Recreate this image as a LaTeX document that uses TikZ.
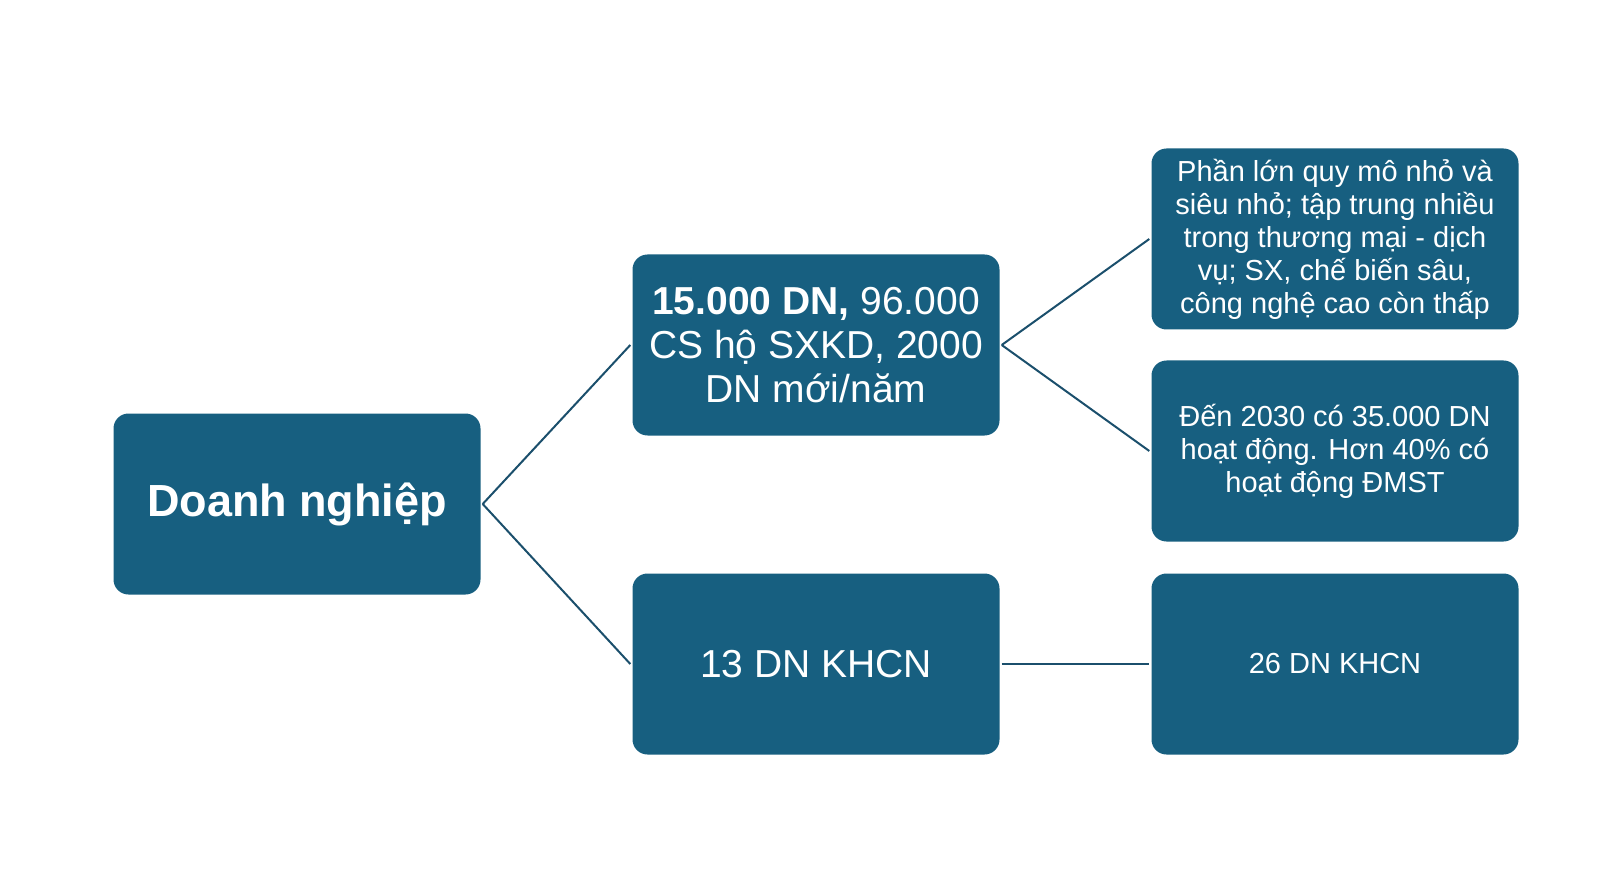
\documentclass[tikz,border=0pt]{standalone}
\usepackage{fontspec}
\setmainfont{Liberation Sans}
\begin{document}
\begin{tikzpicture}[x=1pt,y=-1pt,
  box/.style={fill=boxc,rounded corners=15pt,minimum width=367pt,minimum height=181pt,text=white,align=center,inner sep=2pt,anchor=center},
  con/.style={draw=linec,line width=2pt}]
\definecolor{boxc}{HTML}{175F80}
\definecolor{linec}{HTML}{1B4F6C}
\useasboundingbox (0,0) rectangle (1614,882);
\node[box,font=\fontsize{45}{52}\selectfont\bfseries] (root) at (297,504) {Doanh nghiệp};
\node[box,font=\fontsize{39}{44}\selectfont] (m1) at (816,345) {\textbf{15.000 DN,} 96.000\\CS hộ SXKD, 2000\\DN mới/năm};
\node[box,font=\fontsize{39}{44}\selectfont] (m2) at (816,664) {13 DN KHCN};
\node[box,font=\fontsize{29}{33}\selectfont] (r1) at (1335,239) {Phần lớn quy mô nhỏ và\\siêu nhỏ; tập trung nhiều\\trong thương mại - dịch\\vụ; SX, chế biến sâu,\\công nghệ cao còn thấp};
\node[box,font=\fontsize{29}{33}\selectfont] (r2) at (1335,451) {Đến 2030 có 35.000 DN\\hoạt động. Hơn 40\% có\\hoạt động ĐMST};
\node[box,font=\fontsize{29}{33}\selectfont] (r3) at (1335,664) {26 DN KHCN};
\draw[con] ([xshift=2pt]root.east) -- ([xshift=-2pt]m1.west);
\draw[con] ([xshift=2pt]root.east) -- ([xshift=-2pt]m2.west);
\draw[con] ([xshift=2pt]m1.east) -- ([xshift=-2pt]r1.west);
\draw[con] ([xshift=2pt]m1.east) -- ([xshift=-2pt]r2.west);
\draw[con] ([xshift=2pt]m2.east) -- ([xshift=-2pt]r3.west);
\end{tikzpicture}
\end{document}
